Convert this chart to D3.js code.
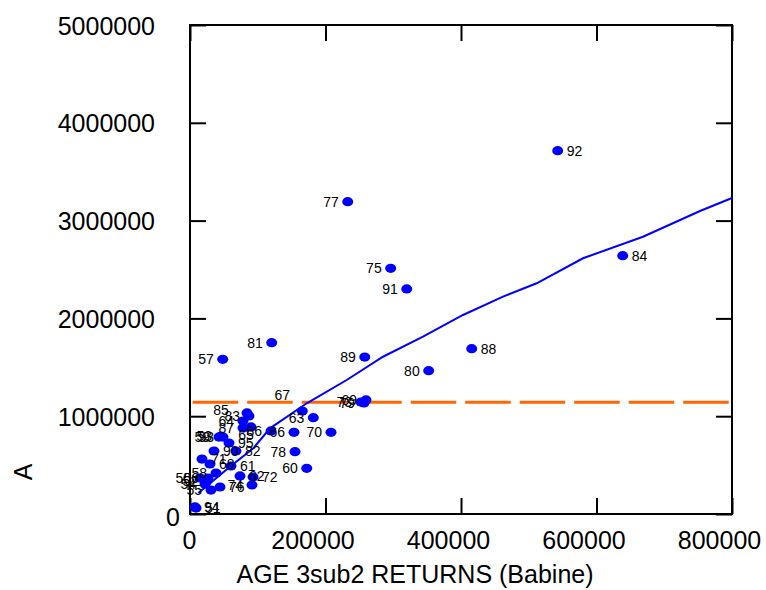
<!DOCTYPE html>
<html>
<head>
<meta charset="utf-8">
<script src="https://cdn.jsdelivr.net/npm/d3@7"></script>
<style>
  body { margin: 0; background: #fff; }
  text { font-family: "Liberation Sans", Arial, sans-serif; fill: #000; }
</style>
</head>
<body>
<div id="chart"></div>
<script>
// brood years and values
var years = [50, 51, 52, 53, 54, 55, 56, 57, 58, 59,
             60, 61, 62, 63, 64, 65, 66, 67, 68, 69,
             70, 71, 72, 73, 74, 75, 76, 77, 78, 79,
             80, 81, 82, 83, 84, 85, 86, 87, 88, 89,
             90, 91, 92, 93, 94, 95];
var returns3 = [14800, 8900, 25100, 45800, 22100, 31000, 26600, 48300, 38400, 42800,
                172300, 60500, 73800, 182000, 78200, 90000, 153500, 165800, 29500, 259800,
                208100, 17700, 93000, 252400, 91500, 296200, 44300, 232800, 155000, 256800,
                352300, 120600, 67900, 87100, 638700, 84100, 119600, 78200, 415800, 257900,
                35400, 319900, 542700, 48700, 7400, 57600];
var recruits = [368000, 61000, 337000, 797000, 306000, 245000, 368000, 1582000, 419000, 787000,
                467000, 491000, 389000, 985000, 951000, 890000, 835000, 1053000, 511000, 1166000,
                835000, 562000, 378000, 1145000, 297000, 2512000, 276000, 3193000, 637000, 1135000,
                1465000, 1752000, 644000, 1002000, 2641000, 1033000, 849000, 879000, 1690000, 1605000,
                644000, 2301000, 3715000, 787000, 72000, 726000];

// fitted curve
var fitX = [12300, 59000, 93400, 118100, 172300, 231300, 284900, 343900, 403000,
            462000, 511700, 580100, 668600, 752800, 800000];
var fitY = [215000, 484000, 672000, 876000, 1132000, 1370000, 1608000, 1813000, 2035000,
            2222000, 2359000, 2615000, 2835000, 3098000, 3231000];

var meanA = 1142000;

var xTicks = [0, 200000, 400000, 600000, 800000];
var yTicks = [0, 1000000, 2000000, 3000000, 4000000, 5000000];

// where each year's label sits: r = right, l = left, or [dx, dy]
var labelPlace = {
  51: "r", 61: "r", 62: "r", 68: "r", 72: "r", 76: "r", 82: "r", 84: "r",
  88: "r", 90: "r", 92: "r", 94: "r", 95: "r", 71: "r",
  67: [-20, -16], 85: [-26, -3], 65: [-5, 8]
};

var svg__Width = 766;
var svg__Height = 590;
var chart__Margin = { top: 25, right: 34, bottom: 76, left: 190 };
var chart__Width = svg__Width - chart__Margin.left - chart__Margin.right;
var chart__Height = svg__Height - chart__Margin.top - chart__Margin.bottom;

var svg = d3.select("#chart")
  .append("svg")
  .attr("width", svg__Width)
  .attr("height", svg__Height);

var chart__Group = svg.append("g")
  .attr("transform", `translate(${chart__Margin.left}, ${chart__Margin.top})`);

var x__Scale = d3.scaleLinear().domain([0, 800000]).range([0, chart__Width]);
var y__Scale = d3.scaleLinear().domain([0, 5000000]).range([chart__Height, 0]);

var plain = d3.format("d");

// axes with inward ticks on all four sides
var bottom__Axis = chart__Group.append("g")
  .attr("transform", `translate(0, ${chart__Height})`)
  .call(d3.axisBottom(x__Scale).tickValues(xTicks).tickSize(-16).tickFormat(plain));
var left__Axis = chart__Group.append("g")
  .call(d3.axisLeft(y__Scale).tickValues(yTicks).tickSize(-16).tickFormat(plain));
chart__Group.append("g")
  .call(d3.axisTop(x__Scale).tickValues(xTicks).tickSize(-16).tickFormat(""));
chart__Group.append("g")
  .attr("transform", `translate(${chart__Width}, 0)`)
  .call(d3.axisRight(y__Scale).tickValues(yTicks).tickSize(-16).tickFormat(""));

chart__Group.selectAll(".domain").remove();
chart__Group.selectAll(".tick line").attr("stroke", "#000").attr("stroke-width", 2);

bottom__Axis.selectAll("text")
  .style("font-size", "25px")
  .attr("y", 35)
  .attr("dy", 0)
  .attr("dx", (d, i) => i ? -13 : -1);

left__Axis.selectAll("text")
  .style("font-size", "25px")
  .attr("dy", d => d === 0 ? "11px" : "9px")
  .attr("x", d => d === 0 ? -10 : -35);

chart__Group.append("rect")
  .attr("width", chart__Width)
  .attr("height", chart__Height)
  .attr("fill", "none")
  .attr("stroke", "#000")
  .attr("stroke-width", 2);

// mean line
chart__Group.append("line")
  .attr("x1", x__Scale(0))
  .attr("x2", x__Scale(800000))
  .attr("y1", y__Scale(meanA))
  .attr("y2", y__Scale(meanA))
  .attr("stroke", "#ff6600")
  .attr("stroke-width", 3)
  .attr("stroke-dasharray", "45.5,9")
  .attr("stroke-dashoffset", 51.8);

// fitted curve
var fit__Data = fitX.map((v, i) => [v, fitY[i]]);
chart__Group.append("path")
  .datum(fit__Data)
  .attr("fill", "none")
  .attr("stroke", "#0000ff")
  .attr("stroke-width", 2)
  .attr("d", d3.line().x(d => x__Scale(d[0])).y(d => y__Scale(d[1])));

var points = years.map((yr, i) => ({ yr: yr, x: returns3[i], y: recruits[i] }));

chart__Group.selectAll(".pt")
  .data(points)
  .enter()
  .append("ellipse")
  .attr("class", "pt")
  .attr("cx", d => x__Scale(d.x))
  .attr("cy", d => y__Scale(d.y))
  .attr("rx", 5.5)
  .attr("ry", 4.6)
  .attr("fill", "#0000ff");

chart__Group.selectAll(".lbl")
  .data(points)
  .enter()
  .append("text")
  .attr("class", "lbl")
  .style("font-size", "14px")
  .each(function(d) {
    var p = labelPlace[d.yr] || "l";
    var t = d3.select(this).text(d.yr);
    var cx = x__Scale(d.x), cy = y__Scale(d.y);
    if (p === "r") {
      t.attr("x", cx + 9).attr("y", cy + 5).attr("text-anchor", "start");
    } else if (p === "l") {
      t.attr("x", cx - 9).attr("y", cy + 5).attr("text-anchor", "end");
    } else {
      t.attr("x", cx + p[0]).attr("y", cy + 5 + p[1]).attr("text-anchor", "middle");
    }
  });

// axis titles
svg.append("text")
  .attr("x", 415)
  .attr("y", 583)
  .attr("text-anchor", "middle")
  .style("font-size", "25px")
  .text("AGE 3sub2 RETURNS (Babine)");

svg.append("text")
  .attr("transform", "translate(32, 472) rotate(-90)")
  .attr("text-anchor", "middle")
  .style("font-size", "25px")
  .text("A");
</script>
</body>
</html>
